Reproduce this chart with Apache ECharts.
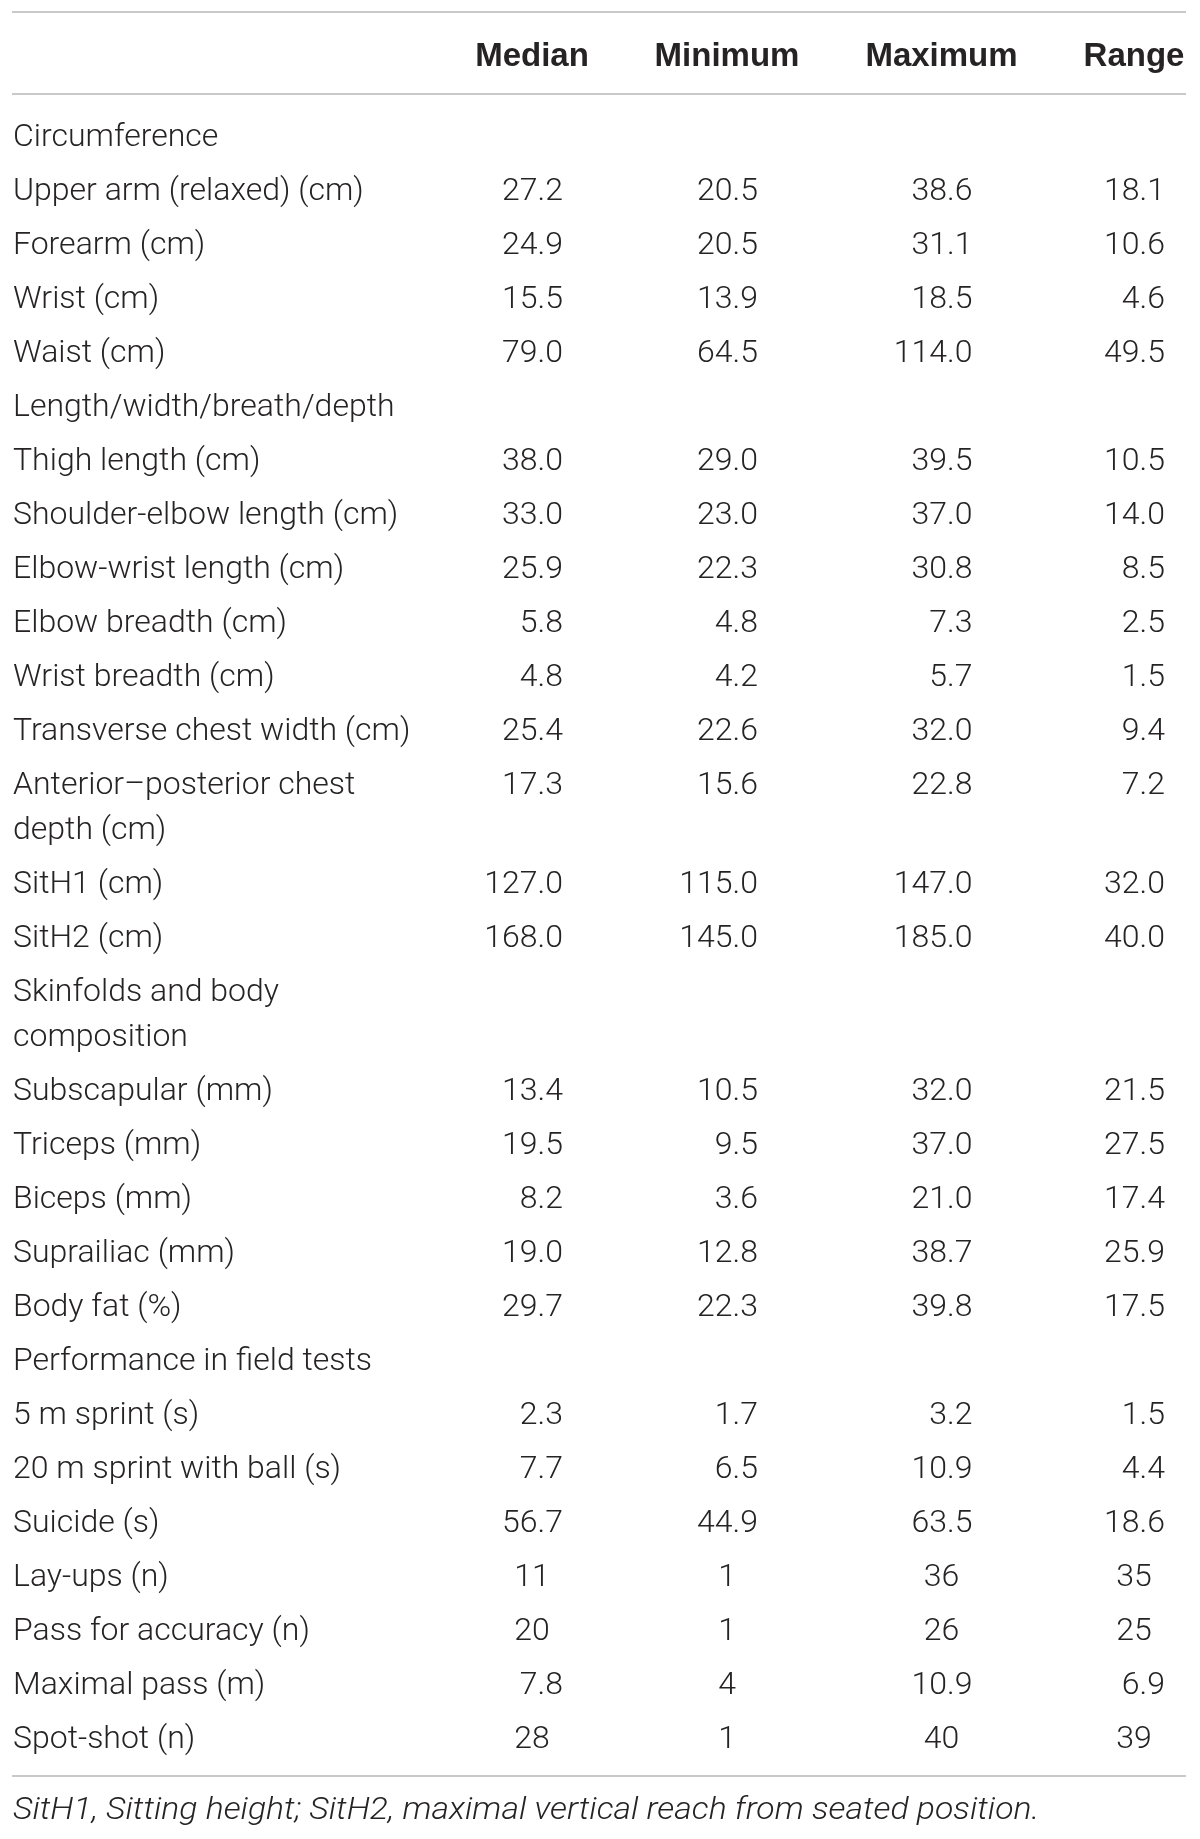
<!DOCTYPE html>
<html>
<head>
<meta charset="utf-8">
<script src="https://cdn.jsdelivr.net/npm/echarts@6/dist/echarts.min.js"></script>
<style>
  html, body { margin: 0; padding: 0; background: #fff; }
  #chart { width: 1200px; height: 1839px; }
</style>
</head>
<body>
<div id="chart"></div>
<script>
const columns = ["Median", "Minimum", "Maximum", "Range"];
const rowLabels = [
  "Circumference",
  "Upper arm (relaxed) (cm)",
  "Forearm (cm)",
  "Wrist (cm)",
  "Waist (cm)",
  "Length/width/breath/depth",
  "Thigh length (cm)",
  "Shoulder-elbow length (cm)",
  "Elbow-wrist length (cm)",
  "Elbow breadth (cm)",
  "Wrist breadth (cm)",
  "Transverse chest width (cm)",
  "Anterior\u2013posterior chest\ndepth (cm)",
  "SitH1 (cm)",
  "SitH2 (cm)",
  "Skinfolds and body\ncomposition",
  "Subscapular (mm)",
  "Triceps (mm)",
  "Biceps (mm)",
  "Suprailiac (mm)",
  "Body fat (%)",
  "Performance in field tests",
  "5 m sprint (s)",
  "20 m sprint with ball (s)",
  "Suicide (s)",
  "Lay-ups (n)",
  "Pass for accuracy (n)",
  "Maximal pass (m)",
  "Spot-shot (n)"
];
// "" marks a section heading row
const median  = ["", "27.2", "24.9", "15.5", "79.0", "", "38.0", "33.0", "25.9", "5.8", "4.8", "25.4", "17.3", "127.0", "168.0", "", "13.4", "19.5", "8.2", "19.0", "29.7", "", "2.3", "7.7", "56.7", "11", "20", "7.8", "28"];
const minimum = ["", "20.5", "20.5", "13.9", "64.5", "", "29.0", "23.0", "22.3", "4.8", "4.2", "22.6", "15.6", "115.0", "145.0", "", "10.5", "9.5", "3.6", "12.8", "22.3", "", "1.7", "6.5", "44.9", "1", "1", "4", "1"];
const maximum = ["", "38.6", "31.1", "18.5", "114.0", "", "39.5", "37.0", "30.8", "7.3", "5.7", "32.0", "22.8", "147.0", "185.0", "", "32.0", "37.0", "21.0", "38.7", "39.8", "", "3.2", "10.9", "63.5", "36", "26", "10.9", "40"];
const range   = ["", "18.1", "10.6", "4.6", "49.5", "", "10.5", "14.0", "8.5", "2.5", "1.5", "9.4", "7.2", "32.0", "40.0", "", "21.5", "27.5", "17.4", "25.9", "17.5", "", "1.5", "4.4", "18.6", "35", "25", "6.9", "39"];
const footnote = "SitH1, Sitting height; SitH2, maximal vertical reach from seated position.";

const valueCols = [median, minimum, maximum, range];

// layout (pixels)
const W = 1200, H = 1839;
const ruleX0 = 12, ruleX1 = 1186;
const rules = [12, 94, 1776];
const headerY = 56.5;
const firstRowY = 137.5;
const rowPitch = 54;
const wrapStep = 45;
const labelX = 13;
const colCenter = [532, 727, 941.5, 1134];
const decimalRight = 31;
const footY = 1811;
const BODY_FONT = "Roboto, 'Liberation Sans', sans-serif";
const HEAD_FONT = "'Liberation Sans', Arial, sans-serif";
const textColor = "#262324";

// y of the first line of each row
const rowY = [];
let cur = firstRowY;
rowLabels.forEach(function (lab) {
  rowY.push(cur);
  cur += rowPitch + (lab.split("\n").length - 1) * wrapStep;
});

// cells: [col, row]  col -1 = label, row -1 = header, row -2 = footnote
const cells = [];
rowLabels.forEach(function (lab, r) {
  cells.push([-1, r]);
  valueCols.forEach(function (arr, c) {
    if (arr[r] !== "") cells.push([c, r]);
  });
});
columns.forEach(function (c, i) { cells.push([i, -1]); });
cells.push([-2, -2]);

const chart = echarts.init(document.getElementById("chart"), null, { renderer: "canvas" });

chart.setOption({
  animation: false,
  backgroundColor: "#fff",
  grid: { left: 0, right: 0, top: 0, bottom: 0 },
  xAxis: { type: "value", min: 0, max: W, show: false },
  yAxis: { type: "value", min: 0, max: H, inverse: true, show: false },
  series: [{
    type: "custom",
    coordinateSystem: "cartesian2d",
    data: cells,
    silent: true,
    renderItem: function (params, api) {
      const c = api.value(0), r = api.value(1);
      let x, y, text, align, font, sx = 1;
      if (r === -2) {
        x = labelX; y = footY; text = footnote; align = "left";
        font = "italic 300 32px " + BODY_FONT;
        sx = 1.055;
      } else if (r === -1) {
        x = colCenter[c]; y = headerY; text = columns[c]; align = "center";
        font = "bold 33px " + HEAD_FONT;
      } else if (c === -1) {
        const lines = rowLabels[r].split("\n");
        x = labelX; y = rowY[r] + (lines.length - 1) * wrapStep / 2;
        text = rowLabels[r]; align = "left";
        font = "300 32px " + BODY_FONT;
      } else {
        text = valueCols[c][r];
        y = rowY[r];
        font = "300 32px " + BODY_FONT;
        if (text.indexOf(".") >= 0) { x = colCenter[c] + decimalRight; align = "right"; }
        else { x = colCenter[c]; align = "center"; }
      }
      const p = api.coord([x, y]);
      return {
        type: "text",
        x: p[0], y: p[1],
        scaleX: sx,
        style: {
          text: text,
          fill: textColor,
          font: font,
          align: align,
          verticalAlign: "middle",
          lineHeight: wrapStep
        }
      };
    }
  }],
  graphic: rules.map(function (ry) {
    return {
      type: "line",
      silent: true,
      shape: { x1: ruleX0, y1: ry, x2: ruleX1, y2: ry },
      style: { stroke: "#c9c9c9", lineWidth: 2 }
    };
  })
});
</script>
</body>
</html>
